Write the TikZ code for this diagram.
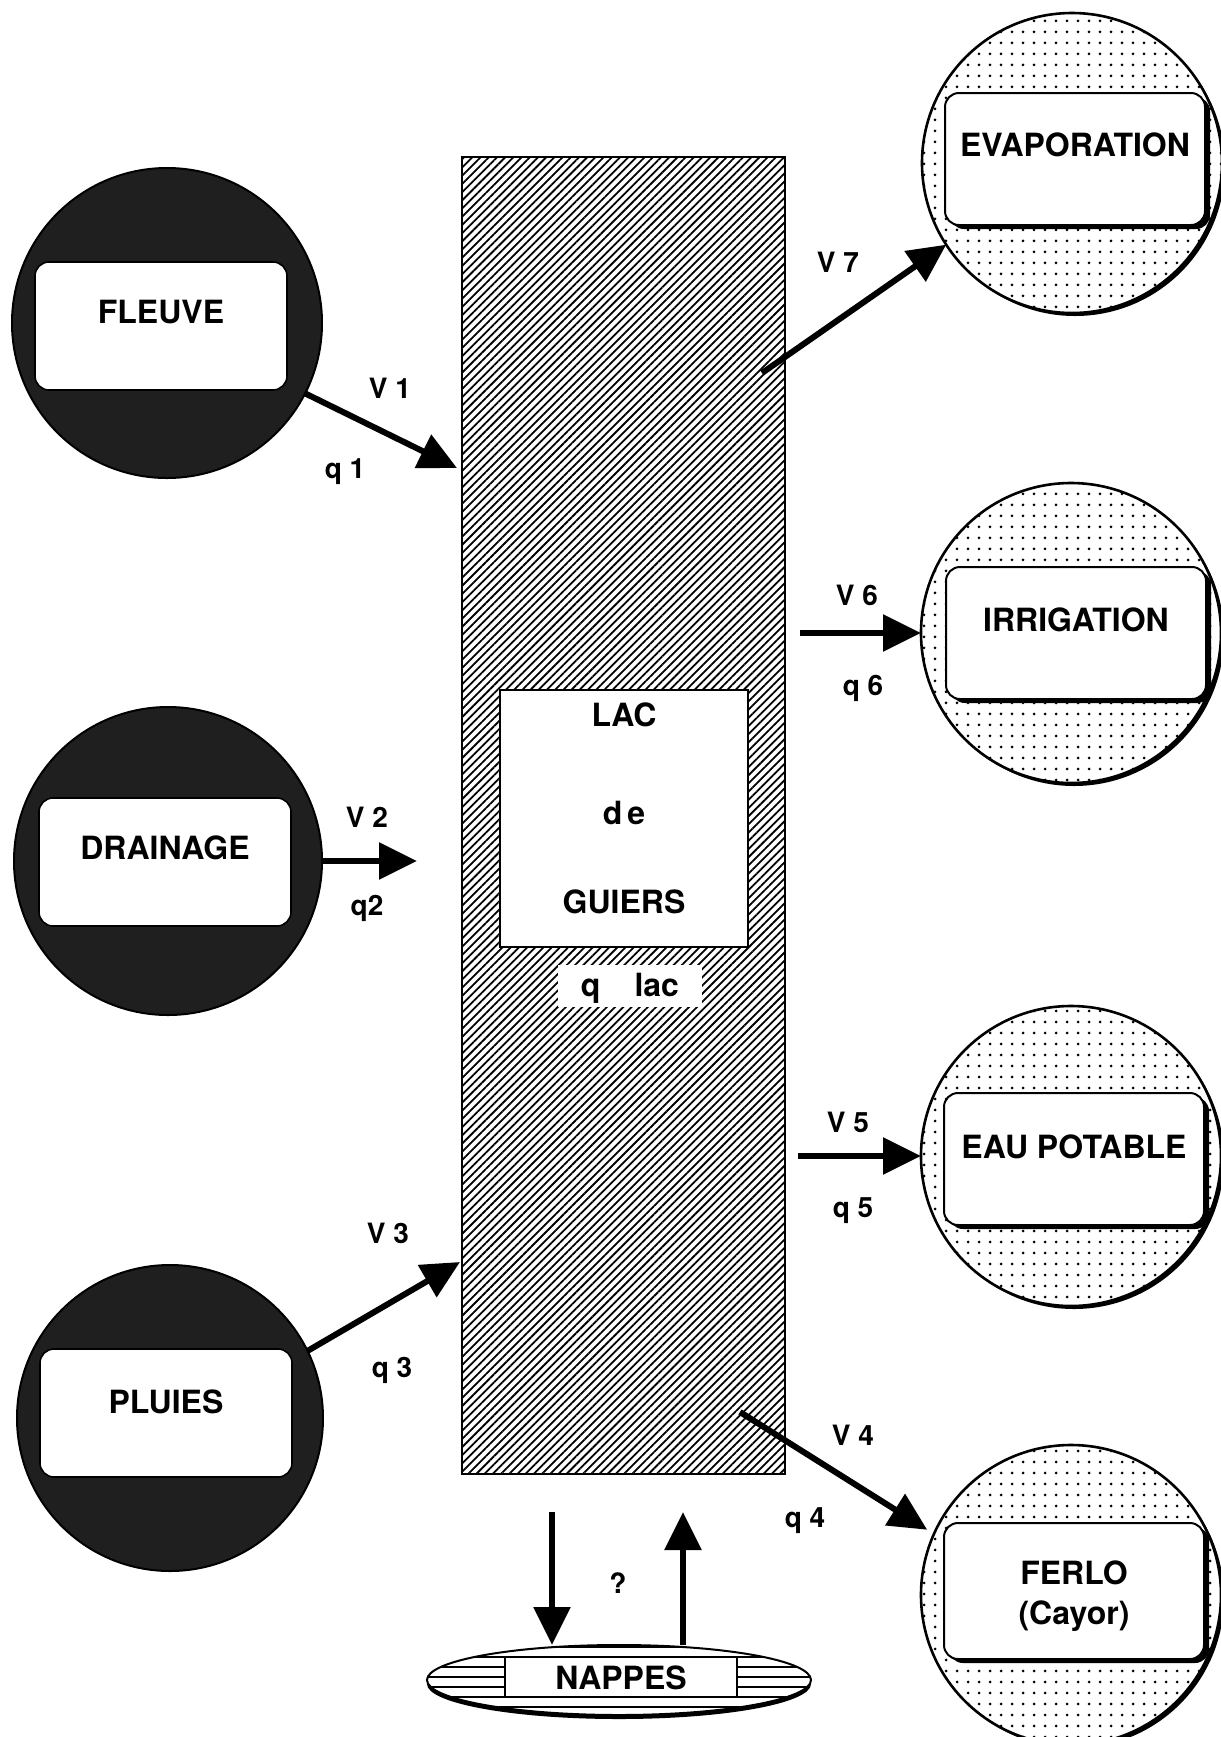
\documentclass[tikz,border=0pt]{standalone}
\usepackage{fontspec}
\setmainfont{TeX Gyre Heros}
\usetikzlibrary{arrows.meta,patterns.meta,shapes.geometric}
\begin{document}
\begin{tikzpicture}[x=0.5pt,y=-0.5pt,
  big/.style={font=\bfseries\fontsize{16}{18}\selectfont, text height=11.5pt, text depth=0pt, inner sep=0pt},
  lbl/.style={font=\bfseries\fontsize{14}{16}\selectfont, text height=10pt, text depth=0pt, inner sep=0pt},
  srccirc/.style={circle, draw=black, line width=1pt, fill=black!88, inner sep=0pt, outer sep=0pt},
  sinkcirc/.style={circle, draw=black, line width=1.3pt, inner sep=0pt, outer sep=0pt, minimum size=150pt,
     preaction={fill=black, transform canvas={xshift=1.5pt, yshift=-1.5pt}},
     preaction={fill=white},
     pattern={Dots[distance=5.5pt, radius=0.75pt]}},
  lbox/.style={rectangle, rounded corners=7pt, fill=white, draw=black, line width=0.8pt, inner sep=0pt,
     minimum width=126pt, minimum height=64pt},
  rbox/.style={rectangle, rounded corners=7pt, fill=white, draw=black, line width=1pt, inner sep=0pt,
     minimum width=130pt, minimum height=66pt,
     preaction={fill=black, transform canvas={xshift=2.5pt, yshift=-2pt}}},
  flow/.style={line width=3pt, -{Triangle[length=19pt,width=18pt]}}
]
\useasboundingbox (0,0) rectangle (1221,1737);

% central lake
\node[draw=black, line width=1.2pt, pattern={Lines[angle=45,distance=2.9pt,line width=0.9pt]},
      minimum width=161.5pt, minimum height=658.5pt, inner sep=0pt, outer sep=0pt] (lake) at (623.5,815.5) {};
\node[draw=black, fill=white, line width=1pt, minimum width=124pt, minimum height=128.5pt, inner sep=0pt] (lacbox) at (624,818.5) {};
\node[big] (lac) at (624,715) {LAC};
\node[big] (de) at (624,813) {d\hspace{2.5pt}e};
\node[big] (guiers) at (624,902) {GUIERS};
\node[fill=white, minimum width=72pt, minimum height=21pt, inner sep=0pt] (qlacbox) at (630,986) {};
\node[big] (qlac) at (630,985) {q\hspace{17pt}lac};

% sources (left)
\node[srccirc, minimum size=155pt] (fleuve) at (167,323) {};
\node[lbox] (fleuvebox) at (161,326) {};
\node[big] (fleuvet) at (161,312) {FLEUVE};

\node[srccirc, minimum size=154pt] (drainage) at (168,861) {};
\node[lbox] (drainbox) at (165,862) {};
\node[big] (draint) at (165,848) {DRAINAGE};

\node[srccirc, minimum size=153pt] (pluies) at (170,1418) {};
\node[lbox] (pluiesbox) at (166,1413) {};
\node[big] (pluiest) at (166,1402) {PLUIES};

% sinks (right)
\node[sinkcirc] (evap) at (1072,163) {};
\node[rbox] (evapbox) at (1075,159) {};
\node[big] (evapt) at (1075,145) {EVAPORATION};

\node[sinkcirc] (irrig) at (1071,633) {};
\node[rbox] (irrigbox) at (1076,633) {};
\node[big] (irrigt) at (1076,620) {IRRIGATION};

\node[sinkcirc] (eau) at (1071,1156) {};
\node[rbox] (eaubox) at (1074,1159) {};
\node[big] (eaut) at (1074,1147) {EAU POTABLE};

\node[sinkcirc] (ferlo) at (1071,1595) {};
\node[rbox, minimum height=68pt] (ferlobox) at (1074,1591) {};
\node[big] (ferlot) at (1074,1573) {FERLO};
\node[big] (cayor) at (1074,1613) {(Cayor)};

% nappes
\node[ellipse, draw=black, line width=1pt, minimum width=192pt, minimum height=35pt, inner sep=0pt, outer sep=0pt,
      preaction={fill=black, transform canvas={yshift=-2pt}}, preaction={fill=white},
      pattern={Lines[angle=0,distance=5pt,line width=0.8pt]}] (nappes) at (619,1680) {};
\node[draw=black, fill=white, line width=0.8pt, minimum width=116pt, minimum height=20pt, inner sep=0pt] (nappesbox) at (621,1677) {};
\node[big] (nappest) at (621,1678) {NAPPES};

% connectors
\coordinate (v1e) at (457,468);
\draw[flow] (fleuve.-27) -- (v1e);
\coordinate (v2e) at (417,861);
\draw[flow] (drainage.east) -- (v2e);
\coordinate (v3e) at (460,1262);
\draw[flow] (pluies.26) -- (v3e);
\coordinate (v7s) at (762,373);
\draw[flow] (v7s) -- (evap.213);
\coordinate (v6s) at (800,633);
\draw[flow] (v6s) -- (irrig.west);
\coordinate (v5s) at (798,1156);
\draw[flow] (v5s) -- (eau.west);
\coordinate (v4s) at (740,1412);
\draw[flow, shorten >=4pt] (v4s) -- (ferlo.156);
\coordinate (dn) at (552,1512);
\draw[flow] (dn) -- (dn |- nappes.north);
\coordinate (up) at (683,1512);
\draw[flow] (up |- nappes.north) -- (up);

% labels
\node[lbl] (lv1) at (390,388) {V 1};
\node[lbl] (lq1) at (345,468) {q 1};
\node[lbl] (lv2) at (367,817) {V 2};
\node[lbl] (lq2) at (367,905) {q2};
\node[lbl] (lv3) at (388,1233) {V 3};
\node[lbl] (lq3) at (392,1367) {q 3};
\node[lbl] (lv7) at (838,262) {V 7};
\node[lbl] (lv6) at (857,595) {V 6};
\node[lbl] (lq6) at (863,685) {q 6};
\node[lbl] (lv5) at (848,1122) {V 5};
\node[lbl] (lq5) at (853,1207) {q 5};
\node[lbl] (lv4) at (853,1435) {V 4};
\node[lbl] (lq4) at (805,1517) {q 4};
\node[lbl] (lqm) at (618,1583) {?};
\end{tikzpicture}
\end{document}
